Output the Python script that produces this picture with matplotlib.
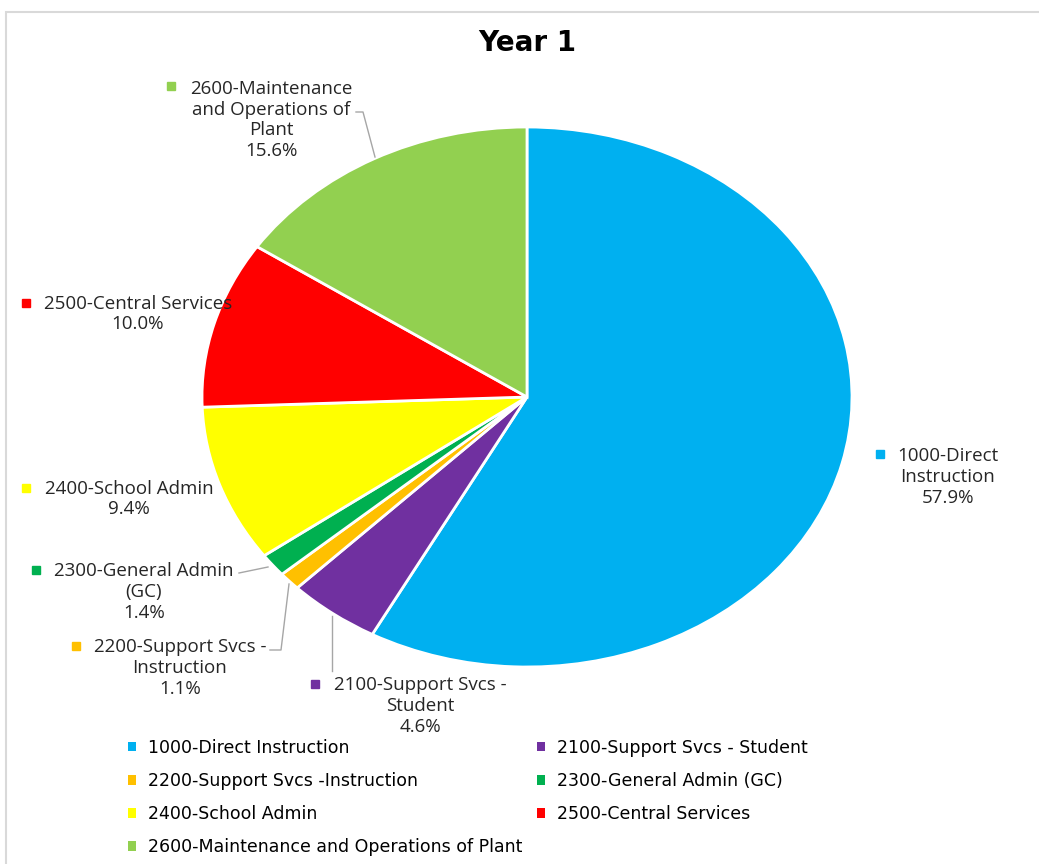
import numpy as np
import matplotlib.pyplot as plt
from matplotlib.patches import Patch, Rectangle
from matplotlib import font_manager

# data
categories = ['1000-Direct Instruction', '2100-Support Svcs - Student',
              '2200-Support Svcs -Instruction', '2300-General Admin (GC)',
              '2400-School Admin', '2500-Central Services',
              '2600-Maintenance and Operations of Plant']
label_text = ['1000-Direct\nInstruction', '2100-Support Svcs -\nStudent',
              '2200-Support Svcs -\nInstruction', '2300-General Admin\n(GC)',
              '2400-School Admin', '2500-Central Services',
              '2600-Maintenance\nand Operations of\nPlant']
shares = [57.9, 4.6, 1.1, 1.4, 9.4, 10.0, 15.6]
colors = ['#00B0F0', '#7030A0', '#FFC000', '#00B050', '#FFFF00', '#FF0000', '#92D050']

names = {f.name for f in font_manager.fontManager.ttflist}
lab_font = 'Open Sans' if 'Open Sans' in names else 'DejaVu Sans'

W, H = 1039, 864
fig = plt.figure(figsize=(W / 100, H / 100), dpi=100)

# chart area border (left and top visible)
fig.patches.append(Rectangle((6 / W, -0.1), 1.2, 1.1 - 12 / H, transform=fig.transFigure,
                             fill=False, edgecolor='#D9D9D9', linewidth=1.5))

# pie is drawn as a slightly stretched ellipse
cx, cy, rx, ry = 527, 397, 325, 270
ax = fig.add_axes([(cx - rx) / W, (H - cy - ry) / H, 2 * rx / W, 2 * ry / H])
wedges, _ = ax.pie(shares, colors=colors, startangle=90, counterclock=False,
                   wedgeprops=dict(edgecolor='white', linewidth=2))
ax.set_aspect('auto')
ax.set_xlim(-1, 1)
ax.set_ylim(-1, 1)


def px(x, y):
    # pixel position -> data coords of the pie axes
    return (x - cx) / rx, (cy - y) / ry


# data label positions (pixel centres of the text blocks) and marker positions
label_pos = [(948, 477), (420, 706), (180, 668), (144, 592), (129, 499), (138, 314), (271, 120)]
mark_pos = [(880, 454), (315, 684), (76, 646), (36, 570), (26, 488), (26, 303), (171, 86)]

for i, t in enumerate(label_text):
    txt = t + '\n' + f'{shares[i]:.1f}%'
    x, y = px(*label_pos[i])
    ax.text(x, y, txt, ha='center', va='center', fontsize=13.5, family=lab_font,
            color='#262626', linespacing=1.2, clip_on=False)
    mx, my = px(*mark_pos[i])
    ax.plot([mx], [my], marker='s', markersize=5.5, color=colors[i], clip_on=False)

# leader lines
leaders = [
    [(356, 112), (363, 112), (375, 157)],
    [(239, 573), (268, 567)],
    [(270, 650), (281, 650), (289, 584)],
    [(332, 616), (332, 671)],
]
for pts in leaders:
    xs, ys = zip(*[px(*p) for p in pts])
    ax.plot(xs, ys, color='#A6A6A6', linewidth=1, clip_on=False)

fig.text(527 / W, 1 - 43 / H, 'Year 1', ha='center', va='center',
         fontsize=20, fontweight='bold')

order = [0, 2, 4, 6, 1, 3, 5]
handles = [Patch(facecolor=colors[i], edgecolor='none') for i in order]
fig.legend(handles, [categories[i] for i in order], ncol=2,
           loc='upper left', bbox_to_anchor=(128 / W, 1 - 739 / H),
           frameon=False, prop={'size': 12.5},
           handlelength=0.45, handleheight=0.45, handletextpad=0.7,
           columnspacing=0.85, labelspacing=0.87, borderpad=0, borderaxespad=0)

fig.savefig('out.png', dpi=100)
